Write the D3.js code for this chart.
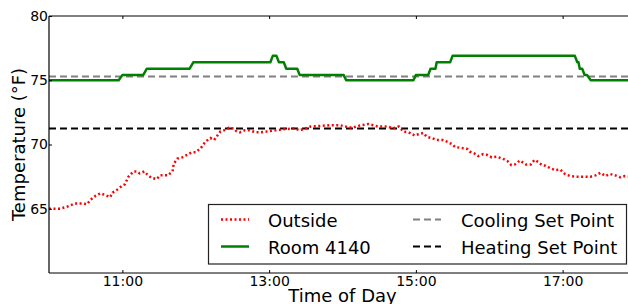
<!DOCTYPE html>
<html>
<head>
<meta charset="utf-8">
<script src="https://d3js.org/d3.v7.min.js"></script>
<style>
    body { margin: 0; background: #fff; }
    svg { display: block; font-family: "DejaVu Sans", sans-serif; }
</style>
</head>
<body>
<svg id="chart" width="628" height="304"></svg>
<script>
// Outside temperature
const outsideTimes = [
    "10:00", "10:09", "10:16", "10:21", "10:28", "10:31", "10:34", "10:38", "10:42", "10:45",
    "10:50", "10:52", "10:56", "11:00", "11:02", "11:05", "11:09", "11:12", "11:14", "11:18",
    "11:21", "11:24", "11:28", "11:31", "11:37", "11:41", "11:42", "11:45", "11:49", "11:53",
    "11:57", "12:00", "12:04", "12:07", "12:09", "12:12", "12:15", "12:17", "12:20", "12:23",
    "12:27", "12:31", "12:33", "12:36", "12:40", "12:44", "12:49", "12:53", "12:57", "13:05",
    "13:13", "13:21", "13:25", "13:34", "13:42", "13:50", "13:58", "14:02", "14:08", "14:13",
    "14:21", "14:29", "14:37", "14:41", "14:46", "14:50", "14:54", "14:59", "15:02", "15:06",
    "15:09", "15:13", "15:17", "15:22", "15:26", "15:30", "15:32", "15:36", "15:42", "15:44",
    "15:48", "15:51", "15:55", "15:58", "16:02", "16:06", "16:11", "16:15", "16:18", "16:21",
    "16:25", "16:30", "16:34", "16:37", "16:40", "16:43", "16:46", "16:50", "16:54", "16:58",
    "17:02", "17:06", "17:10", "17:16", "17:23", "17:27", "17:31", "17:35", "17:39", "17:43",
    "17:47", "17:51", "17:55"
];
const outsideTemps = [
    65.0, 65.0, 65.2, 65.4, 65.4, 65.35, 65.7, 66.0, 66.2, 66.1,
    65.9, 66.25, 66.5, 66.8, 66.9, 67.5, 67.9, 67.9, 67.75, 67.9,
    67.6, 67.4, 67.3, 67.6, 67.6, 67.9, 68.5, 68.9, 69.0, 69.2,
    69.4, 69.4, 69.7, 70.1, 70.3, 70.5, 70.35, 70.6, 71.0, 71.1,
    71.3, 71.25, 71.05, 70.95, 71.1, 71.1, 70.95, 70.95, 71.0, 71.1,
    71.2, 71.25, 71.1, 71.4, 71.45, 71.5, 71.5, 71.4, 71.3, 71.45,
    71.6, 71.4, 71.4, 71.25, 71.4, 71.0, 70.95, 70.7, 70.8, 70.9,
    70.6, 70.5, 70.35, 70.35, 70.2, 70.0, 69.8, 69.75, 69.65, 69.45,
    69.3, 69.1, 69.25, 69.2, 69.0, 69.05, 68.9, 68.7, 68.4, 68.45,
    68.75, 68.45, 68.45, 68.8, 68.65, 68.4, 68.35, 68.15, 68.0, 68.05,
    67.7, 67.55, 67.5, 67.5, 67.5, 67.6, 67.8, 67.55, 67.7, 67.6,
    67.45, 67.55, 67.5
];

// Room 4140 (stepped thermostat reading)
const roomTimes = [
    "10:00", "10:57", "11:00", "11:17", "11:20", "11:55", "11:58", "13:01", "13:03", "13:06",
    "13:08", "13:12", "13:14", "13:23", "13:25", "14:01", "14:03", "14:58", "15:00", "15:10",
    "15:12", "15:16", "15:17", "15:28", "15:30", "17:10", "17:12", "17:13", "17:14", "17:16",
    "17:18", "17:20", "17:23", "17:55"
];
const roomTemps = [
    75.0, 75.0, 75.4, 75.4, 75.9, 75.9, 76.4, 76.4, 76.9, 76.9,
    76.4, 76.4, 75.9, 75.9, 75.4, 75.4, 75.0, 75.0, 75.4, 75.4,
    75.9, 75.9, 76.4, 76.4, 76.9, 76.9, 76.4, 76.4, 75.9, 75.9,
    75.4, 75.4, 75.0, 75.0
];

const coolingSetPoint = 75.3;
const heatingSetPoint = 71.25;

const xDomain = ["10:00", "18:00"];
const xTickLabels = ["11:00", "13:00", "15:00", "17:00"];
const yDomain = [60, 80];
const yTickValues = [65, 70, 75, 80];

const parseTime = d3.timeParse("%H:%M");
const formatTime = d3.timeFormat("%H:%M");

const margin = { left: 49, top: 16, right: 636, bottom: 273 };

const svg = d3.select('#chart');

const x = d3.scaleTime()
    .domain(xDomain.map(parseTime))
    .range([margin.left, margin.right]);

const y = d3.scaleLinear()
    .domain(yDomain)
    .range([margin.bottom, margin.top]);

// Clip to plot area
svg.append('defs').append('clipPath')
    .attr('id', 'plot-clip')
    .append('rect')
    .attr('x', margin.left)
    .attr('y', margin.top)
    .attr('width', margin.right - margin.left)
    .attr('height', margin.bottom - margin.top);

const plot = svg.append('g').attr('clip-path', 'url(#plot-clip)');

// Set point lines
plot.append('line')
    .attr('x1', x.range()[0]).attr('x2', x.range()[1])
    .attr('y1', y(coolingSetPoint)).attr('y2', y(coolingSetPoint))
    .attr('stroke', '#808080')
    .attr('stroke-width', 2)
    .attr('stroke-dasharray', '7,4');

plot.append('line')
    .attr('x1', x.range()[0]).attr('x2', x.range()[1])
    .attr('y1', y(heatingSetPoint)).attr('y2', y(heatingSetPoint))
    .attr('stroke', '#000')
    .attr('stroke-width', 2)
    .attr('stroke-dasharray', '7,4');

const line = d3.line()
    .x(d => x(d.t))
    .y(d => y(d.v));

const outside = outsideTimes.map((t, i) => ({ t: parseTime(t), v: outsideTemps[i] }));
const room = roomTimes.map((t, i) => ({ t: parseTime(t), v: roomTemps[i] }));

plot.append('path')
    .datum(outside)
    .attr('d', line)
    .attr('fill', 'none')
    .attr('stroke', '#ff0000')
    .attr('stroke-width', 2.5)
    .attr('stroke-dasharray', '2,2.5');

plot.append('path')
    .datum(room)
    .attr('d', line)
    .attr('fill', 'none')
    .attr('stroke', '#008000')
    .attr('stroke-width', 2.5)
    .attr('stroke-linejoin', 'round');

// Spines
const spines = svg.append('g')
    .attr('stroke', '#000')
    .attr('stroke-width', 1.2);

spines.append('line')
    .attr('x1', margin.left).attr('x2', margin.left)
    .attr('y1', margin.top).attr('y2', margin.bottom);
spines.append('line')
    .attr('x1', margin.left).attr('x2', margin.right)
    .attr('y1', margin.bottom).attr('y2', margin.bottom);
spines.append('line')
    .attr('x1', margin.left).attr('x2', margin.right)
    .attr('y1', margin.top).attr('y2', margin.top);

// X axis (ticks point inward)
const xTicks = xTickLabels.map(parseTime);

svg.append('g')
    .attr('transform', `translate(0,${margin.bottom})`)
    .call(d3.axisBottom(x).tickValues(xTicks).tickFormat(formatTime).tickSize(-3).tickPadding(3))
    .call(g => g.select('.domain').remove())
    .call(g => g.selectAll('text')
        .attr('font-size', 14)
        .attr('font-family', '"DejaVu Sans", sans-serif')
        .attr('fill', '#000'));

svg.append('g')
    .attr('transform', `translate(0,${margin.top})`)
    .call(d3.axisTop(x).tickValues(xTicks).tickFormat('').tickSize(-3))
    .call(g => g.select('.domain').remove());

// Y axis
svg.append('g')
    .attr('transform', `translate(${margin.left},0)`)
    .call(d3.axisLeft(y).tickValues(yTickValues).tickSize(-3).tickPadding(1))
    .call(g => g.select('.domain').remove())
    .call(g => g.selectAll('text')
        .attr('font-size', 14)
        .attr('font-family', '"DejaVu Sans", sans-serif')
        .attr('fill', '#000')
        .attr('x', -1));

// Axis titles
svg.append('text')
    .attr('x', (margin.left + margin.right) / 2)
    .attr('y', 302)
    .attr('text-anchor', 'middle')
    .attr('font-size', 18)
    .text('Time of Day');

svg.append('text')
    .attr('transform', `translate(25,${(margin.top + margin.bottom) / 2}) rotate(-90)`)
    .attr('text-anchor', 'middle')
    .attr('font-size', 18)
    .text('Temperature (°F)');

// Legend
const legendItems = [
    { label: 'Outside', color: '#ff0000', dash: '2,2.5', width: 2.5, col: 0, row: 0 },
    { label: 'Room 4140', color: '#008000', dash: null, width: 2.5, col: 0, row: 1 },
    { label: 'Cooling Set Point', color: '#808080', dash: '7,4', width: 2, col: 1, row: 0 },
    { label: 'Heating Set Point', color: '#000', dash: '7,4', width: 2, col: 1, row: 1 }
];

const legend = svg.append('g');

legend.append('rect')
    .attr('x', 208.5)
    .attr('y', 204.5)
    .attr('width', 418)
    .attr('height', 59.5)
    .attr('fill', '#fff')
    .attr('stroke', '#222')
    .attr('stroke-width', 1.2);

const colX = [221, 413];
const rowY = [219.5, 246.5];

const entry = legend.selectAll('g.entry')
    .data(legendItems)
    .enter().append('g')
    .attr('class', 'entry')
    .attr('transform', d => `translate(${colX[d.col]},${rowY[d.row]})`);

entry.append('line')
    .attr('x1', 0).attr('x2', 28)
    .attr('stroke', d => d.color)
    .attr('stroke-width', d => d.width)
    .attr('stroke-dasharray', d => d.dash);

entry.append('text')
    .attr('x', d => d.col === 0 ? 47 : 48)
    .attr('y', 7)
    .attr('font-size', 18)
    .text(d => d.label);
</script>
</body>
</html>
